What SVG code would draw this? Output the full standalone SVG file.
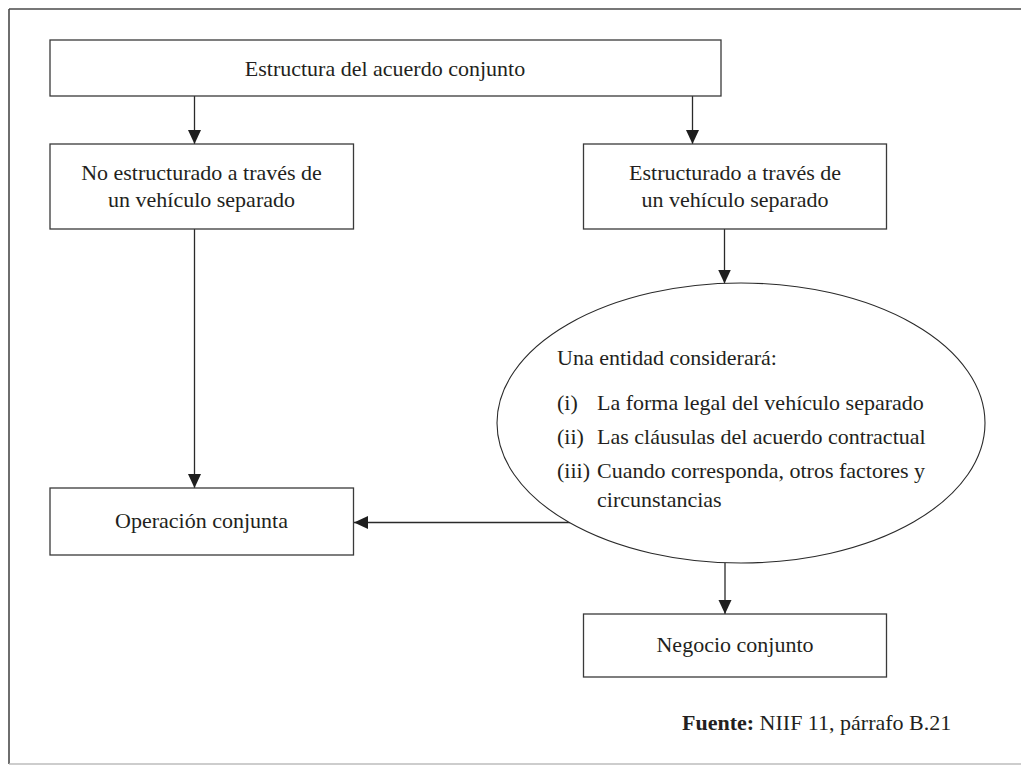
<svg xmlns="http://www.w3.org/2000/svg" width="1021" height="765" viewBox="0 0 1021 765">
  <style>
    .box { fill: #ffffff; stroke: #3a3a3a; stroke-width: 1.3; }
    .oval { fill: #ffffff; stroke: #2a2a2a; stroke-width: 1.1; }
    .link { fill: none; stroke: #2a2a2a; stroke-width: 1.3; }
    text { font-family: "Liberation Serif", "Times New Roman", serif; font-size: 22px; fill: #231f20; }
    .c { text-anchor: middle; }
    .b { font-weight: bold; }
  </style>
  <defs>
    <marker id="arrow" markerUnits="userSpaceOnUse" markerWidth="14" markerHeight="18" viewBox="0 0 14 18" refX="14" refY="6.5" orient="auto">
      <path d="M0,0 L14,6.5 L0,13 Z" fill="#1e1e1e"/>
    </marker>
  </defs>

  <rect width="1021" height="765" fill="#ffffff"/>

  <!-- outer frame: dark top and left rules, light bottom rule -->
  <g id="frame">
    <line x1="9" y1="9" x2="1021" y2="9" stroke="#4a4a4a" stroke-width="1.6"/>
    <line x1="9" y1="9" x2="9" y2="764" stroke="#4a4a4a" stroke-width="1.6"/>
    <line x1="9" y1="764" x2="1021" y2="764" stroke="#bdbdbd" stroke-width="1.6"/>
  </g>

  <g id="connectors">
    <line class="link" x1="194.5" y1="96" x2="194.5" y2="144" marker-end="url(#arrow)"/>
    <line class="link" x1="692.5" y1="96" x2="692.5" y2="144" marker-end="url(#arrow)"/>
    <line class="link" x1="194.5" y1="229" x2="194.5" y2="488" marker-end="url(#arrow)"/>
    <line class="link" x1="724.5" y1="229" x2="724.5" y2="283.5" marker-end="url(#arrow)"/>
    <line class="link" x1="570" y1="522.5" x2="354" y2="522.5" marker-end="url(#arrow)"/>
    <line class="link" x1="725" y1="563" x2="725" y2="614" marker-end="url(#arrow)"/>
  </g>

  <g id="estructura">
    <rect class="box" x="50" y="40" width="671" height="56"/>
    <text class="c" x="385" y="76">Estructura del acuerdo conjunto</text>
  </g>

  <g id="no-estructurado">
    <rect class="box" x="50" y="144" width="303.5" height="85"/>
    <text class="c" x="201.5" y="180">No estructurado a través de</text>
    <text class="c" x="201.5" y="207">un vehículo separado</text>
  </g>

  <g id="estructurado">
    <rect class="box" x="583.5" y="144" width="303" height="85"/>
    <text class="c" x="735" y="180">Estructurado a través de</text>
    <text class="c" x="735" y="207">un vehículo separado</text>
  </g>

  <g id="considerara">
    <ellipse class="oval" cx="741" cy="423" rx="244" ry="140"/>
    <text x="557" y="365">Una entidad considerará:</text>
    <text x="557" y="410">(i)</text>
    <text x="597" y="410">La forma legal del vehículo separado</text>
    <text x="557" y="444">(ii)</text>
    <text x="597" y="444">Las cláusulas del acuerdo contractual</text>
    <text x="557" y="478">(iii)</text>
    <text x="597" y="478">Cuando corresponda, otros factores y</text>
    <text x="597" y="507">circunstancias</text>
  </g>

  <g id="operacion">
    <rect class="box" x="50" y="488" width="303.5" height="67"/>
    <text class="c" x="201.5" y="528">Operación conjunta</text>
  </g>

  <g id="negocio">
    <rect class="box" x="583.5" y="614" width="303" height="63"/>
    <text class="c" x="735" y="652">Negocio conjunto</text>
  </g>

  <g id="fuente">
    <text x="682" y="730"><tspan class="b">Fuente:</tspan> NIIF 11, párrafo B.21</text>
  </g>
</svg>
